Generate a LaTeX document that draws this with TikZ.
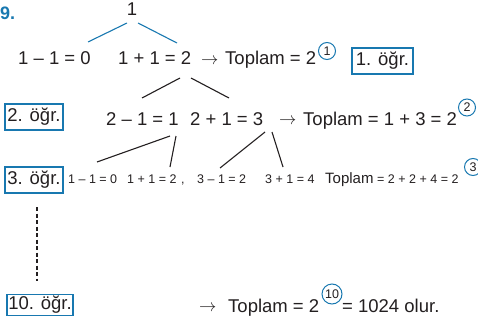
\documentclass[tikz,border=0pt]{standalone}
\usepackage{fontspec}
\setmainfont{Liberation Sans}
\definecolor{ink}{HTML}{231F20}
\definecolor{qblue}{HTML}{1878B0}
\tikzset{
  txt/.style={inner sep=0pt, anchor=base west, text=ink, font=\fontsize{18.5}{22}\selectfont},
  sm/.style={inner sep=0pt, anchor=base west, text=ink, font=\fontsize{12.5}{15}\selectfont},
  mid/.style={inner sep=0pt, anchor=base west, text=ink, font=\fontsize{15}{18}\selectfont},
  arr/.style={inner sep=0pt, anchor=base west, text=ink, font=\fontsize{17}{19}\selectfont},
  tag/.style={draw=qblue, line width=1.2pt, inner sep=0pt, text=ink, text height=13pt, text depth=4pt, font=\fontsize{18.5}{22}\selectfont},
  circ/.style={circle, draw=qblue, line width=1pt, inner sep=0pt, minimum size=17pt, text=ink, font=\fontsize{12.5}{14}\selectfont},
  branch/.style={line width=1.1pt, draw=ink},
  bbranch/.style={line width=1.1pt, draw=qblue},
}
\begin{document}
\begin{tikzpicture}[x=1pt,y=-1pt]
\useasboundingbox (0,0) rectangle (478,326);
% number
\node[inner sep=0pt, anchor=base west, text=qblue, font=\fontsize{18}{20}\selectfont\bfseries] (num) at (0,20) {9.};
% level 0
\node[txt, anchor=base] (top) at (132,16) {1};
\coordinate (t1) at (127,23); \coordinate (t2) at (88,42);
\coordinate (t3) at (138,23); \coordinate (t4) at (177,43);
\draw[bbranch] (t1) -- (t2);
\draw[bbranch] (t3) -- (t4);
% level 1
\node[txt] (a1) at (18,65) {1 – 1 = 0};
\node[txt] (a2) at (118,65) {1 + 1 = 2};
\node[arr] (ar1) at (201,64.5) {$\rightarrow$};
\node[txt] (s1) at (225,65) {Toplam = 2};
\node[circ] (c1) at (327,51) {1};
\node[tag, minimum width=61pt, minimum height=26pt] (g1) at (382.5,61) {1. öğr.};
\coordinate (b1) at (180,78); \coordinate (b2) at (142,98);
\coordinate (b3) at (191,78); \coordinate (b4) at (229,98);
\draw[branch] (b1) -- (b2);
\draw[branch] (b3) -- (b4);
% level 2
\node[tag, minimum width=58pt, minimum height=26pt] (g2) at (34,117) {2. öğr.};
\node[txt] (d1) at (106,125) {2 – 1 = 1};
\node[txt] (d2) at (190,125) {2 + 1 = 3};
\node[arr] (ar2) at (279,124.5) {$\rightarrow$};
\node[txt] (s2) at (303,125) {Toplam = 1 + 3 = 2};
\node[circ] (c2) at (467,107.5) {2};
\coordinate (e1) at (170,136); \coordinate (e2) at (97,162);
\coordinate (e3) at (176,136); \coordinate (e4) at (170,167);
\coordinate (e5) at (265,132); \coordinate (e6) at (220,168);
\coordinate (e7) at (272,132); \coordinate (e8) at (283,167);
\draw[branch] (e1) -- (e2);
\draw[branch] (e3) -- (e4);
\draw[branch] (e5) -- (e6);
\draw[branch] (e7) -- (e8);
% level 3
\node[tag, minimum width=58pt, minimum height=26pt] (g3) at (34,180) {3. öğr.};
\node[sm] (f1) at (68,183) {1 – 1 = 0};
\node[sm] (f2) at (127,183) {1 + 1 = 2};
\node[sm] (fc) at (181,183) {,};
\node[sm] (f3) at (197,183) {3 – 1 = 2};
\node[sm] (f4) at (265,183) {3 + 1 = 4};
\node[mid] (s3) at (325,183) {Toplam};
\node[sm] (s3b) at (377,183) {= 2 + 2 + 4 = 2};
\node[circ] (c3) at (473,167) {3};
% dots
\coordinate (v1) at (37,207); \coordinate (v2) at (37,281);
\draw[line width=1.1pt, draw=ink, dash pattern=on 4pt off 2.5pt] (v1) -- (v2);
% level 10
\node[tag, minimum width=66pt, minimum height=21pt] (g4) at (40,305) {10. öğr.};
\node[arr] (ar4) at (199,311.5) {$\rightarrow$};
\node[txt] (s4) at (228,312) {Toplam = 2};
\node[circ, minimum size=20pt] (c4) at (332,294) {10};
\node[txt] (s4b) at (342,312) {= 1024 olur.};
\end{tikzpicture}
\end{document}
